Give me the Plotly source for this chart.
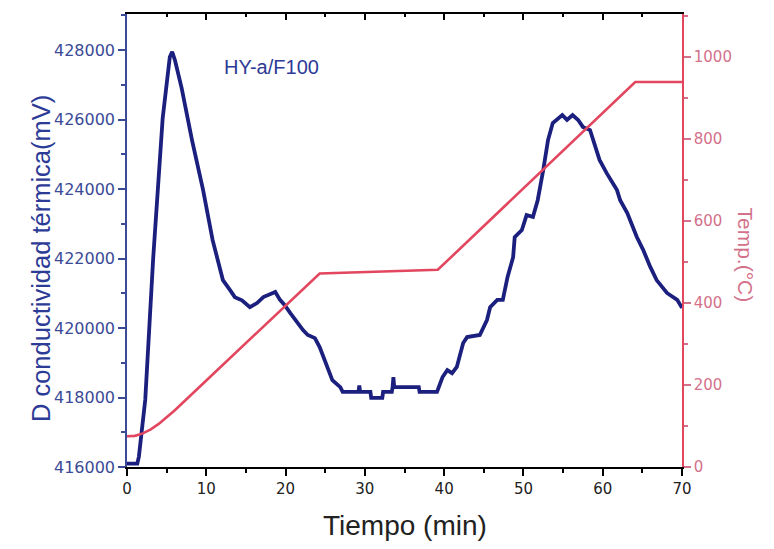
import plotly.graph_objects as go

# Thermal conductivity signal (mV) vs time (min)
time_cond = [0, 1.3, 1.5, 2.3, 3.3, 4.5, 5.4, 5.7, 6.05, 6.9, 8.2, 9.6, 10.8, 12.1, 13.0, 13.6,
             14.5, 15.5, 16.4, 17.2, 18.4, 18.7, 19.3, 19.9, 20.6, 21.4, 22.2, 22.8, 23.7, 24.3,
             25.2, 25.9, 26.9, 27.2, 29.2, 29.3, 29.4, 30.7, 30.8, 32.2, 32.3, 33.4, 33.5, 33.6,
             33.7, 36.8, 36.9, 39.1, 39.8, 40.4, 41.0, 41.6, 42.4, 42.9, 44.5, 45.4, 45.8, 46.7,
             47.4, 48.0, 48.7, 48.9, 49.8, 50.4, 51.2, 51.8, 52.5, 53.1, 53.7, 54.2, 54.9, 55.5,
             56.2, 56.9, 57.5, 58.4, 58.8, 59.6, 60.5, 61.8, 62.2, 63.1, 64.3, 65.1, 66.0, 66.8,
             68.1, 69.4, 70.0]
conductivity = [416100, 416100, 416300, 417930, 422000, 426040, 427800, 427950, 427710, 426900,
                425410, 423970, 422530, 421380, 421090, 420890, 420800, 420600, 420720, 420890,
                421010, 421040, 420810, 420660, 420430, 420170, 419940, 419800, 419710, 419450,
                418880, 418500, 418300, 418160, 418160, 418350, 418160, 418160, 417990, 417990,
                418160, 418160, 418300, 418590, 418300, 418300, 418160, 418160, 418590, 418790,
                418700, 418880, 419570, 419740, 419800, 420230, 420600, 420810, 420810, 421470,
                422040, 422620, 422820, 423250, 423200, 423680, 424550, 425410, 425900, 425990,
                426130, 425990, 426130, 425990, 425790, 425700, 425410, 424840, 424460, 423970,
                423680, 423310, 422620, 422250, 421760, 421380, 421010, 420810, 420580]

# Temperature program (°C) vs time (min)
time_temp = [0, 1, 2, 3, 4, 5, 6, 7, 8, 9, 10, 24.3, 39.2, 64.1, 70]
temperature = [75, 76, 82, 92, 105, 121, 138, 156, 174, 193, 211, 472, 481, 939, 939]

x_ticks = [0, 10, 20, 30, 40, 50, 60, 70]
left_ticks = [416000, 418000, 420000, 422000, 424000, 426000, 428000]
right_ticks = [0, 200, 400, 600, 800, 1000]

BLUE = "#1b1f7e"
BLUE_TXT = "#3a4a96"
RED = "#e2475f"
RED_TXT = "#d3718a"
FONT = "Liberation Sans, Arial, sans-serif"
TICKFONT = "DejaVu Sans, sans-serif"

fig = go.Figure()
fig.add_trace(go.Scatter(x=time_temp, y=temperature, mode="lines",
                         line=dict(color=RED, width=2.6), yaxis="y2", showlegend=False))
fig.add_trace(go.Scatter(x=time_cond, y=conductivity, mode="lines",
                         line=dict(color=BLUE, width=3.8), yaxis="y", showlegend=False))
# invisible trace to activate top axis
fig.add_trace(go.Scatter(x=[0, 70], y=[416000, 416000], mode="lines", xaxis="x2",
                         line=dict(width=0), showlegend=False, hoverinfo="skip"))

fig.update_layout(
    width=774, height=549,
    margin=dict(l=127, r=92, t=14, b=82),
    paper_bgcolor="white", plot_bgcolor="white",
    font=dict(family=FONT),
    xaxis=dict(range=[0, 70], tickvals=x_ticks, ticks="outside", ticklen=7, tickwidth=1.5,
               tickcolor="black", showline=True, linecolor="black", linewidth=1.5,
               showgrid=False, zeroline=False,
               tickfont=dict(size=15, color="#222222", family=TICKFONT),
               minor=dict(dtick=5, ticklen=4, tickwidth=1.5, tickcolor="black", ticks="outside")),
    xaxis2=dict(range=[0, 70], overlaying="x", side="top", tickvals=x_ticks, ticks="inside",
                ticklen=6, tickwidth=1.5, tickcolor="black", showline=True, linecolor="black",
                linewidth=1.5, showticklabels=False, showgrid=False, zeroline=False,
                minor=dict(dtick=5, ticklen=3, tickwidth=1.5, tickcolor="black", ticks="inside")),
    yaxis=dict(range=[416000, 429040], tickvals=left_ticks, tickformat="d", ticks="outside",
               ticklen=7, tickwidth=1.5, tickcolor=BLUE_TXT, showline=True, linecolor=BLUE_TXT,
               linewidth=1.5, showgrid=False, zeroline=False,
               tickfont=dict(size=16, color=BLUE_TXT, family=TICKFONT),
               minor=dict(dtick=1000, ticklen=4, tickwidth=1.5, tickcolor=BLUE_TXT, ticks="outside")),
    yaxis2=dict(range=[0, 1105], overlaying="y", side="right", tickvals=right_ticks,
                ticks="outside", ticklen=7, tickwidth=1.5, tickcolor=RED_TXT, showline=True,
                linecolor=RED, linewidth=1.5, showgrid=False, zeroline=False,
                tickfont=dict(size=15, color=RED_TXT, family=TICKFONT),
                minor=dict(dtick=100, ticklen=4, tickwidth=1.5, tickcolor=RED_TXT, ticks="outside")),
    annotations=[
        dict(text="HY-a/F100", x=12.0, y=427510, xref="x", yref="y", showarrow=False,
             xanchor="left", yanchor="middle", font=dict(size=20, color="#2c3b96", family=FONT)),
        dict(text="D conductividad térmica(mV)", x=0, xref="paper", xshift=-102,
             y=0.459, yref="paper", showarrow=False, textangle=-90,
             font=dict(size=25.5, color="#2c3b96", family=FONT)),
        dict(text="Temp.(°C)", x=1.0, xref="paper", xshift=77, y=0.468, yref="paper",
             showarrow=False, textangle=90, font=dict(size=21, color=RED_TXT, family=FONT)),
        dict(text="Tiempo (min)", x=0.5, xref="paper", y=0, yref="paper", yshift=-58,
             yanchor="middle", showarrow=False,
             font=dict(size=28, color="#222222", family=FONT)),
    ],
)

fig.write_html("out.html")
